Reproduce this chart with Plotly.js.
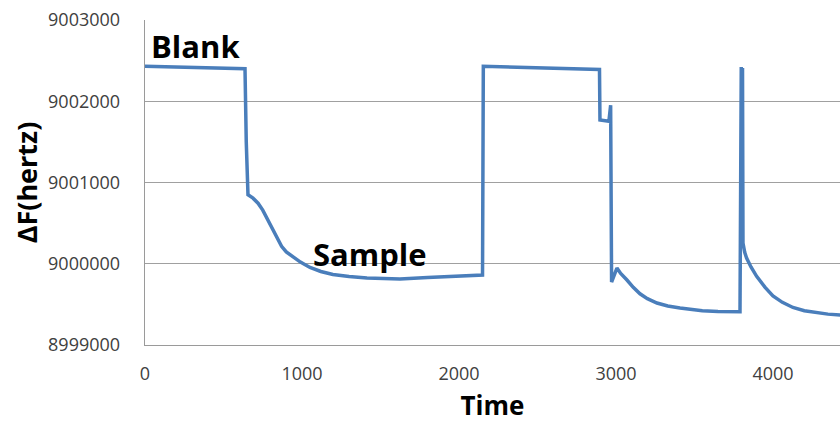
<!DOCTYPE html>
<html>
<head>
<meta charset="utf-8">
<script src="https://cdn.plot.ly/plotly-3.0.1.min.js"></script>
<style>html,body{margin:0;padding:0;background:#fff}#chart{width:840px;height:423px}</style>
</head>
<body>
<div id="chart"></div>
<script>
// Time (x) and frequency shift (y)
const time = [0, 300, 637, 645, 656, 688, 720, 750, 777, 810, 841, 870, 900, 943, 990, 1051, 1120, 1197, 1300, 1414, 1520, 1624, 1800, 2000, 2150,
  2155, 2500, 2895, 2898, 2955, 2966, 2972, 3006, 3030, 3070, 3110, 3153, 3200, 3261, 3330, 3408, 3480, 3550, 3650, 3790,
  3798, 3802, 3806, 3809, 3820, 3832, 3860, 3896, 3950, 4000, 4060, 4127, 4200, 4278, 4350, 4427, 4500];
const deltaF = [9002430, 9002418, 9002400, 9001500, 9000850, 9000807, 9000745, 9000660, 9000560, 9000430, 9000310, 9000215, 9000145, 9000080, 9000020, 8999955, 8999905, 8999868, 8999842, 8999826, 8999816, 8999812, 8999830, 8999848, 8999862,
  9002430, 9002412, 9002392, 9001770, 9001755, 9001950, 8999775, 8999947, 8999880, 8999800, 8999710, 8999630, 8999570, 8999517, 8999480, 8999456, 8999435, 8999422, 8999412, 8999410,
  9002420, 9000600, 9002410, 9000254, 9000140, 9000070, 8999960, 8999845, 8999710, 8999605, 8999525, 8999462, 8999422, 8999396, 8999380, 8999370, 8999365];
const yTicks = [8999000, 9000000, 9001000, 9002000, 9003000];
const xTicks = [0, 1000, 2000, 3000, 4000];
const labels = [{text: "Blank", x: 28, y: 9002680}, {text: "Sample", x: 1060, y: 9000115}];

const fontFam = '"Open Sans", "Noto Sans", sans-serif';
Plotly.newPlot('chart', [{
  x: time, y: deltaF, type: 'scatter', mode: 'lines',
  line: {color: '#4a7ebb', width: 3.5, shape: 'linear'}, hoverinfo: 'skip'
}], {
  width: 840, height: 423,
  margin: {l: 145, r: 0, t: 19.5, b: 78},
  paper_bgcolor: '#fff', plot_bgcolor: '#fff',
  showlegend: false,
  xaxis: {
    range: [0, 4427], tickvals: xTicks, ticktext: xTicks.map(String),
    showgrid: false, zeroline: false, showline: true, linecolor: '#9a9a9a', linewidth: 1.3,
    ticks: 'outside', ticklen: 12, tickcolor: 'rgba(0,0,0,0)',
    tickfont: {family: fontFam, size: 18, color: '#404040'},
    title: {text: '<b>Time</b>', font: {family: fontFam, size: 26, color: '#000'}, standoff: 24}
  },
  yaxis: {
    range: [8999000, 9003000], tickvals: yTicks, ticktext: yTicks.map(String),
    showgrid: true, gridcolor: '#a0a0a0', gridwidth: 1.2, zeroline: false,
    showline: true, linecolor: '#9a9a9a', linewidth: 1.3,
    ticks: 'outside', ticklen: 20, tickcolor: 'rgba(0,0,0,0)',
    tickfont: {family: fontFam, size: 18, color: '#404040'},
    title: {text: '<b>ΔF(hertz)</b>', font: {family: fontFam, size: 27, color: '#000'}, standoff: 2}
  },
  annotations: labels.map(l => ({
    text: '<b>' + l.text + '</b>', x: l.x, y: l.y, xref: 'x', yref: 'y',
    xanchor: 'left', yanchor: 'middle', showarrow: false,
    font: {family: fontFam, size: 31, color: '#000'}
  }))
}, {staticPlot: true});
</script>
</body>
</html>
